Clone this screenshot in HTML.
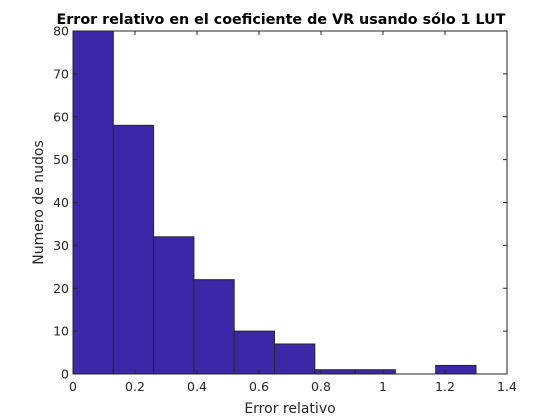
<!DOCTYPE html>
<html><head><meta charset="utf-8"><style>
html,body{margin:0;padding:0;background:#fff;width:560px;height:420px;overflow:hidden}
text{font-family:"DejaVu Sans","Liberation Sans",sans-serif}
</style></head><body>
<svg id="chart" width="560" height="420" xmlns="http://www.w3.org/2000/svg"></svg>
<script>
const binStart = 0;
const binWidth = 0.13;
const counts = [80, 58, 32, 22, 10, 7, 1, 1, 0, 2];
const xTicks = [0, 0.2, 0.4, 0.6, 0.8, 1, 1.2, 1.4];
const xTickLabels = ["0", "0.2", "0.4", "0.6", "0.8", "1", "1.2", "1.4"];
const yTicks = [0, 10, 20, 30, 40, 50, 60, 70, 80];

const L=73,R=507,T=31,B=374,xMax=1.4,yMax=80;
const sx=v=>L+(v/xMax)*(R-L);
const sy=v=>B-(v/yMax)*(B-T);
const svg=document.getElementById('chart');
const NS='http://www.w3.org/2000/svg';
function mk(tag,attrs,parent){const e=document.createElementNS(NS,tag);for(const k in attrs)e.setAttribute(k,attrs[k]);(parent||svg).appendChild(e);return e;}

const bars=mk('g',{});


counts.forEach((c,i)=>{
  const x0=sx(binStart+i*binWidth),x1=sx(binStart+(i+1)*binWidth);
  const r=mk('rect',{x:x0,y:sy(Math.min(c,yMax)),width:x1-x0,height:B-sy(Math.min(c,yMax)),fill:'#3e26a8',stroke:'#262626','stroke-width':1},bars);
  
  
});

const box=mk('rect',{x:L,y:T,width:R-L,height:B-T,fill:'none',stroke:'#262626','stroke-width':1});



xTicks.forEach((v,i)=>{
  const x=sx(v);
  mk('line',{x1:x,x2:x,y1:B,y2:B-4,stroke:'#262626'});
  mk('line',{x1:x,x2:x,y1:T,y2:T+4,stroke:'#262626'});
  const t=mk('text',{x:x,y:B+17,'text-anchor':'middle','font-size':12.5,fill:'#262626'});
  t.textContent=xTickLabels[i];
  
  
});
yTicks.forEach(v=>{
  const y=sy(v);
  mk('line',{x1:L,x2:L+4,y1:y,y2:y,stroke:'#262626'});
  mk('line',{x1:R,x2:R-4,y1:y,y2:y,stroke:'#262626'});
  const t=mk('text',{x:L-4,y:y+4.5,'text-anchor':'end','font-size':12.5,fill:'#262626'});
  t.textContent=String(v);
  
  
});

const title=mk('text',{x:281,y:24,'text-anchor':'middle','font-size':14.3,'font-weight':'bold',fill:'#000'});
title.textContent='Error relativo en el coeficiente de VR usando sólo 1 LUT';



const xl=mk('text',{x:(L+R)/2,y:413,'text-anchor':'middle','font-size':14,fill:'#262626'});
xl.textContent='Error relativo';



const yl=mk('text',{x:0,y:0,'text-anchor':'middle','font-size':14,fill:'#262626',transform:'translate(43,'+((T+B)/2)+') rotate(-90)'});
yl.textContent='Numero de nudos';


</script>
</body></html>
